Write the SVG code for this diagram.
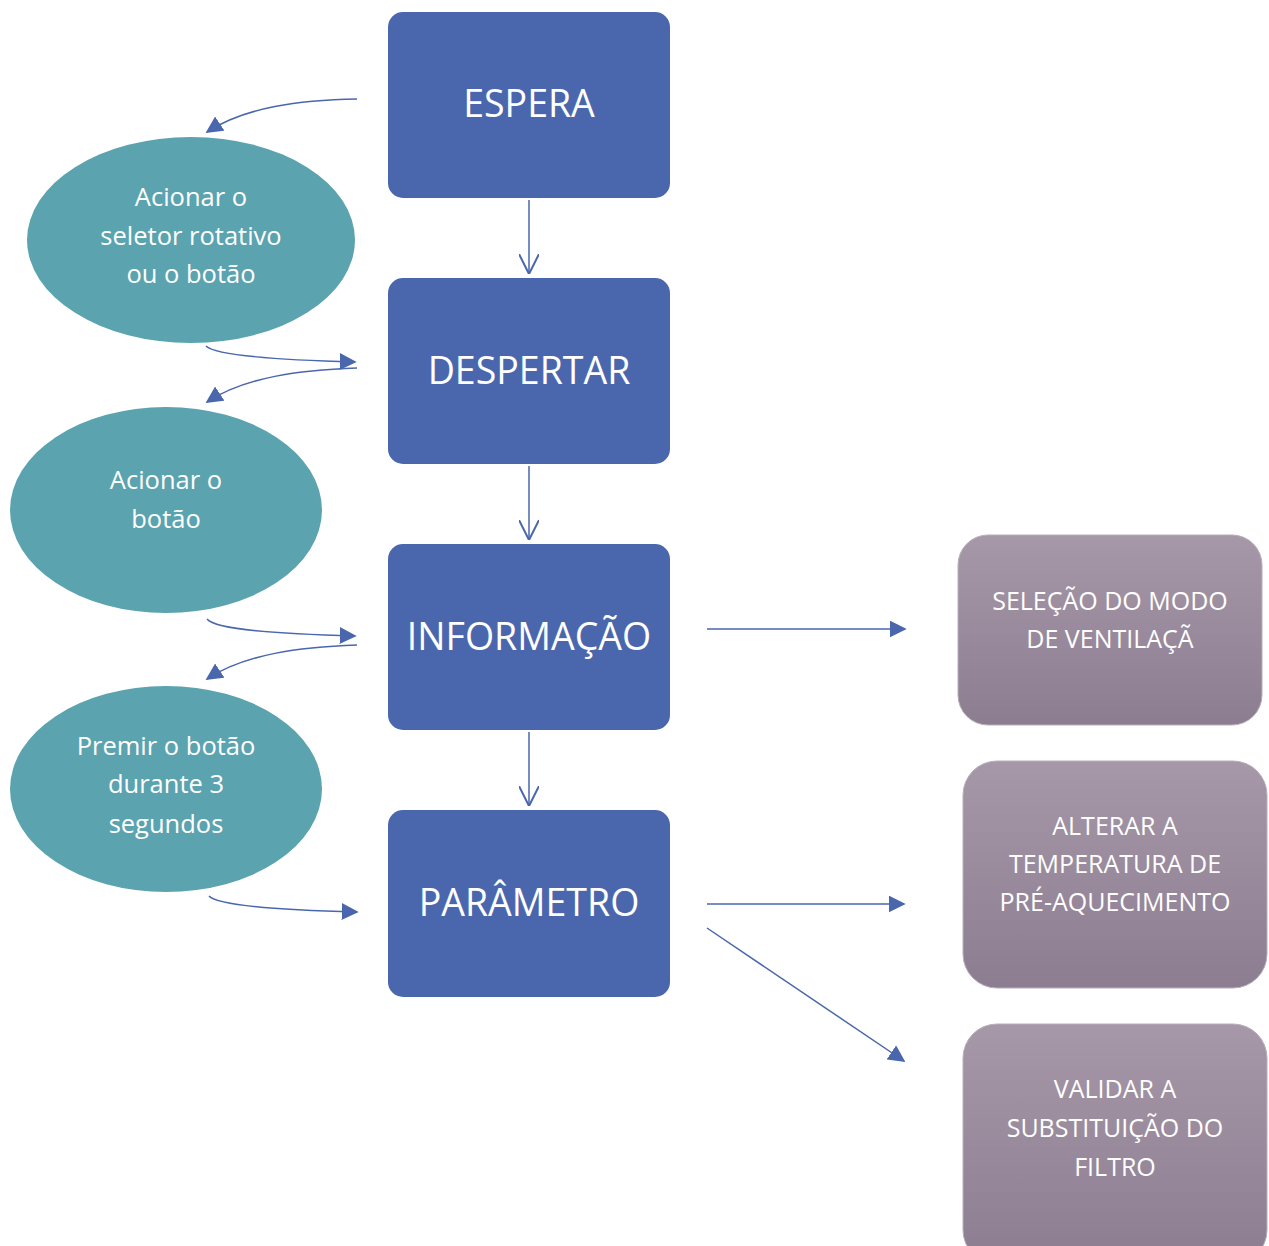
<svg xmlns="http://www.w3.org/2000/svg" width="1269" height="1246" viewBox="0 0 1269 1246">
<defs>
<linearGradient id="pg" x1="0" y1="0" x2="0" y2="1">
<stop offset="0" stop-color="#A698A8"/>
<stop offset="1" stop-color="#8C7D91"/>
</linearGradient>
<marker id="tri" viewBox="0 0 10 10" refX="9" refY="5" markerWidth="17" markerHeight="17" markerUnits="userSpaceOnUse" orient="auto">
<path d="M0,0 L10,5 L0,10 z" fill="#4A67AE"/>
</marker>
<marker id="vee" viewBox="0 0 10 10" refX="10" refY="5" markerWidth="20" markerHeight="20" markerUnits="userSpaceOnUse" orient="auto">
<path d="M0,0 L10,5 L0,10" fill="none" stroke="#4A67AE" stroke-width="1"/>
</marker>
</defs>
<style>
.box{fill:#4A67AE}
.ell{fill:#5BA3AF}
.pbox{fill:url(#pg);stroke:#B8AEBB;stroke-width:1}
.t{font-family:"Open Sans","Noto Sans",sans-serif;fill:#FFFFFF;text-anchor:middle}
.big{font-size:37.5px}
.small{font-size:25.5px}
.ps{font-size:25px}
.c{fill:none;stroke:#4A67AE;stroke-width:1.5}
</style>
<rect width="1269" height="1246" fill="#FFFFFF"/>
<g id="espera"><rect class="box" x="388" y="12" width="282" height="186" rx="15"/><text class="t big" x="529" y="117">ESPERA</text></g>
<g id="despertar"><rect class="box" x="388" y="278" width="282" height="186" rx="15"/><text class="t big" x="529" y="384">DESPERTAR</text></g>
<g id="informacao"><rect class="box" x="388" y="544" width="282" height="186" rx="15"/><text class="t big" x="529" y="650">INFORMAÇÃO</text></g>
<g id="parametro"><rect class="box" x="388" y="810" width="282" height="187" rx="15"/><text class="t big" x="529" y="916">PARÂMETRO</text></g>
<g id="e1"><ellipse class="ell" cx="191" cy="240" rx="164" ry="103"/><text class="t small"><tspan x="191" y="206">Acionar o</tspan><tspan x="191" y="245">seletor rotativo</tspan><tspan x="191" y="283">ou o botão</tspan></text></g>
<g id="e2"><ellipse class="ell" cx="166" cy="510" rx="156" ry="103"/><text class="t small"><tspan x="166" y="489">Acionar o</tspan><tspan x="166" y="528">botão</tspan></text></g>
<g id="e3"><ellipse class="ell" cx="166" cy="789" rx="156" ry="103"/><text class="t small"><tspan x="166" y="755">Premir o botão</tspan><tspan x="166" y="793">durante 3</tspan><tspan x="166" y="833">segundos</tspan></text></g>
<g id="p1"><rect class="pbox" x="958" y="535" width="304" height="190" rx="30"/><text class="t ps"><tspan x="1110" y="610">SELEÇÃO DO MODO</tspan><tspan x="1110" y="648">DE VENTILAÇÃ</tspan></text></g>
<g id="p2"><rect class="pbox" x="963" y="761" width="304" height="227" rx="34"/><text class="t ps"><tspan x="1115" y="835">ALTERAR A</tspan><tspan x="1115" y="873">TEMPERATURA DE</tspan><tspan x="1115" y="911">PRÉ-AQUECIMENTO</tspan></text></g>
<g id="p3"><rect class="pbox" x="963" y="1024" width="304" height="240" rx="34"/><text class="t ps"><tspan x="1115" y="1098">VALIDAR A</tspan><tspan x="1115" y="1137">SUBSTITUIÇÃO DO</tspan><tspan x="1115" y="1176">FILTRO</tspan></text></g>
<g id="connectors">
<path class="c" d="M529,200 L529,274" marker-end="url(#vee)"/>
<path class="c" d="M529,466 L529,540" marker-end="url(#vee)"/>
<path class="c" d="M529,732 L529,806" marker-end="url(#vee)"/>
<path class="c" d="M357,99 C300,100 245,107 207,132" marker-end="url(#tri)"/>
<path class="c" d="M206,346 C215,355 280,360 355,362" marker-end="url(#tri)"/>
<path class="c" d="M357,368 C300,370 245,377 207,402" marker-end="url(#tri)"/>
<path class="c" d="M207,619 C216,630 280,634 355,636" marker-end="url(#tri)"/>
<path class="c" d="M357,645 C300,647 245,654 207,679" marker-end="url(#tri)"/>
<path class="c" d="M209,896 C218,906 280,910 357,912" marker-end="url(#tri)"/>
<path class="c" d="M707,629 L905,629" marker-end="url(#tri)"/>
<path class="c" d="M707,904 L904,904" marker-end="url(#tri)"/>
<path class="c" d="M707,928 L904,1061" marker-end="url(#tri)"/>
</g>
</svg>
